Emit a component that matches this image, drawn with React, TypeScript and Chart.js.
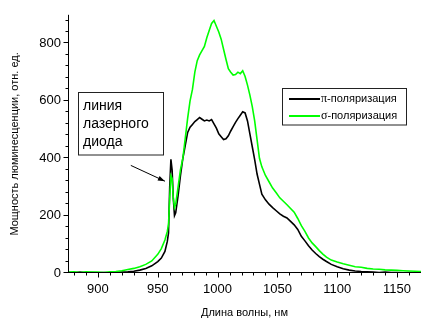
import React, { useEffect, useRef } from 'react';
import { Chart, registerables } from 'chart.js';

Chart.register(...registerables);

// Wavelength grid, nm
const wavelengths = [
  875, 880, 885, 890, 895, 900, 905, 910, 915, 920, 925, 930, 935, 940, 945, 950,
  953, 956, 958, 959, 960, 961, 962, 963, 964, 965, 967, 969, 971, 973, 975, 977,
  979, 981, 983, 985, 987, 989, 991, 993, 995, 997, 999, 1001, 1003, 1005, 1007,
  1009, 1011, 1013, 1015, 1017, 1019, 1021, 1023, 1025, 1027, 1029, 1031, 1033,
  1035, 1037, 1040, 1043, 1046, 1049, 1052, 1055, 1058, 1061, 1064, 1067, 1070,
  1073, 1076, 1079, 1082, 1085, 1088, 1091, 1095, 1100, 1105, 1110, 1115, 1120,
  1125, 1130, 1135, 1140, 1145, 1150, 1155, 1160, 1165, 1170,
];

// π-polarisation (black)
const piValues = [
  2, 1, 3, 1, 2, 1, 2, 1, 2, 3, 4, 6, 10, 16, 25, 40,
  52, 75, 110, 140, 300, 396, 360, 260, 200, 210, 270, 340, 400, 445, 490, 508,
  518, 528, 535, 542, 536, 530, 533, 530, 535, 520, 505, 485, 475, 465, 468,
  478, 495, 510, 525, 538, 550, 562, 558, 530, 485, 440, 395, 345,
  310, 275, 255, 240, 228, 217, 206, 198, 192, 180, 168, 152, 128,
  112, 95, 80, 68, 57, 48, 40, 30, 22, 15, 10, 7, 5,
  4, 3, 2, 3, 2, 2, 1, 2, 1, 1,
];

// σ-polarisation (green)
const sigmaValues = [
  3, 4, 2, 4, 3, 3, 2, 4, 5, 8, 12, 16, 22, 30, 42, 65,
  85, 115, 145, 170, 260, 340, 330, 260, 228, 240, 300, 360, 400, 470, 540, 600,
  640, 700, 740, 760, 775, 790, 820, 845, 870, 880, 860, 840, 815, 780, 745,
  712, 700, 690, 692, 700, 695, 705, 685, 655, 620, 580, 530, 465,
  400, 370, 340, 318, 296, 280, 262, 250, 238, 225, 212, 190, 165,
  145, 122, 105, 92, 78, 66, 55, 45, 38, 32, 27, 22, 20,
  16, 14, 13, 11, 10, 9, 8, 7, 6, 5,
];

const xTickValues = [900, 950, 1000, 1050, 1100, 1150];
const yTickValues = [0, 200, 400, 600, 800];
const seriesLabels = ['π-поляризация', 'σ-поляризация'];
const seriesColors = ['#000000', '#00ff00'];
const annotationLines = ['линия', 'лазерного', 'диода'];
const xTitle = 'Длина волны, нм';
const yTitle = 'Мощность люминесценции, отн. ед.';

const SANS = '"Liberation Sans", Arial, sans-serif';
const SERIF = '"Liberation Serif", "Times New Roman", serif';

const decorPlugin = {
  id: 'decor',
  afterDatasetsDraw(chart: any) {
    const { ctx, chartArea, scales } = chart;
    const xs = scales.x;
    const ys = scales.y;
    ctx.save();
    ctx.strokeStyle = '#000';
    ctx.lineWidth = 1;
    // axes lines
    const ax = Math.round(chartArea.left) + 0.5;
    const ay = Math.round(chartArea.bottom) - 0.5;
    ctx.beginPath();
    ctx.moveTo(ax, chartArea.top);
    ctx.lineTo(ax, ay + 0.5);
    ctx.moveTo(ax - 0.5, ay);
    ctx.lineTo(chartArea.right, ay);
    ctx.stroke();
    // y ticks (minor every 40)
    ctx.beginPath();
    for (let v = 0; v <= ys.max; v += 40) {
      const py = Math.round(ys.getPixelForValue(v)) - 0.5;
      const len = v % 200 === 0 ? 5 : 3;
      ctx.moveTo(ax, py);
      ctx.lineTo(ax - len, py);
    }
    // x ticks (minor every 10)
    for (let v = 880; v <= xs.max; v += 10) {
      const px = Math.round(xs.getPixelForValue(v)) + 0.5;
      const len = v % 50 === 0 ? 5 : 3;
      ctx.moveTo(px, ay);
      ctx.lineTo(px, ay + len);
    }
    ctx.stroke();

    // annotation box
    ctx.fillStyle = '#fff';
    ctx.strokeStyle = '#222';
    ctx.fillRect(78.5, 92.5, 85, 62.5);
    ctx.strokeRect(78.5, 92.5, 85, 62.5);
    ctx.fillStyle = '#000';
    ctx.font = `14px ${SANS}`;
    ctx.textBaseline = 'middle';
    ctx.textAlign = 'left';
    annotationLines.forEach((t, i) => {
      ctx.fillText(t, 83, 106 + i * 18.3);
    });

    // arrow
    const x1 = xs.getPixelForValue(927.5);
    const y1 = ys.getPixelForValue(375);
    const x2 = xs.getPixelForValue(956);
    const y2 = ys.getPixelForValue(320);
    ctx.strokeStyle = '#000';
    ctx.lineWidth = 1;
    ctx.beginPath();
    ctx.moveTo(x1, y1);
    ctx.lineTo(x2, y2);
    ctx.stroke();
    const ang = Math.atan2(y2 - y1, x2 - x1);
    const hl = 7;
    const hw = 2.5;
    ctx.beginPath();
    ctx.moveTo(x2, y2);
    ctx.lineTo(x2 - hl * Math.cos(ang) + hw * Math.sin(ang), y2 - hl * Math.sin(ang) - hw * Math.cos(ang));
    ctx.lineTo(x2 - hl * Math.cos(ang) - hw * Math.sin(ang), y2 - hl * Math.sin(ang) + hw * Math.cos(ang));
    ctx.closePath();
    ctx.fill();

    // legend
    ctx.fillStyle = '#fff';
    ctx.strokeStyle = '#222';
    ctx.fillRect(282.5, 88.5, 124, 36.5);
    ctx.strokeRect(282.5, 88.5, 124, 36.5);
    seriesLabels.forEach((label, i) => {
      const ly = 99 + i * 17;
      ctx.strokeStyle = seriesColors[i];
      ctx.lineWidth = 2;
      ctx.beginPath();
      ctx.moveTo(289, ly);
      ctx.lineTo(320, ly);
      ctx.stroke();
      ctx.fillStyle = '#000';
      const greek = label.charAt(0);
      const rest = label.slice(1);
      ctx.font = `12px ${SERIF}`;
      ctx.fillText(greek, 321, ly);
      const gw = ctx.measureText(greek).width;
      ctx.font = `11px ${SANS}`;
      ctx.fillText(rest, 321 + gw, ly);
    });
    ctx.restore();
  },
};

export default function App() {
  const ref = useRef<HTMLCanvasElement>(null);
  useEffect(() => {
    if (!ref.current) return;
    const chart = new Chart(ref.current, {
      type: 'line',
      data: {
        datasets: [
          {
            label: seriesLabels[0],
            data: wavelengths.map((w, i) => ({ x: w, y: piValues[i] })),
            borderColor: seriesColors[0],
            borderWidth: 1.6,
            pointRadius: 0,
            fill: false,
            tension: 0,
            order: 1,
          },
          {
            label: seriesLabels[1],
            data: wavelengths.map((w, i) => ({ x: w, y: sigmaValues[i] })),
            borderColor: seriesColors[1],
            borderWidth: 1.6,
            pointRadius: 0,
            fill: false,
            tension: 0,
            order: 0,
          },
        ],
      },
      options: {
        animation: false,
        responsive: false,
        events: [],
        layout: { padding: { left: 0, top: 13, right: 0, bottom: 0 } },
        plugins: { legend: { display: false }, tooltip: { enabled: false } },
        scales: {
          x: {
            type: 'linear',
            min: 875,
            max: 1170,
            afterFit: (s: any) => {
              s.height = 47;
            },
            afterBuildTicks: (s: any) => {
              s.ticks = xTickValues.map((v) => ({ value: v }));
            },
            grid: { display: false, drawTicks: false },
            border: { display: false },
            ticks: {
              padding: 9,
              color: '#000',
              font: { family: SANS, size: 13 },
              maxRotation: 0,
              autoSkip: false,
              callback: (v: any) => String(v),
            },
            title: {
              display: true,
              text: xTitle,
              color: '#000',
              font: { family: SANS, size: 11 },
              padding: { top: 0, bottom: 0 },
            },
          },
          y: {
            type: 'linear',
            min: 0,
            max: 900,
            afterFit: (s: any) => {
              s.width = 68;
            },
            afterBuildTicks: (s: any) => {
              s.ticks = yTickValues.map((v) => ({ value: v }));
            },
            grid: { display: false, drawTicks: false },
            border: { display: false },
            ticks: {
              padding: 7,
              color: '#000',
              font: { family: SANS, size: 13 },
              callback: (v: any) => String(v),
            },
            title: {
              display: true,
              text: yTitle,
              color: '#000',
              font: { family: SANS, size: 11 },
              padding: { top: 8, bottom: 0 },
            },
          },
        },
      },
      plugins: [decorPlugin],
    });
    return () => chart.destroy();
  }, []);
  return (
    <div style={{ position: 'fixed', left: 0, top: 0, width: 421, height: 320, background: '#fff' }}>
      <canvas ref={ref} width={421} height={320} style={{ display: 'block' }} />
    </div>
  );
}
